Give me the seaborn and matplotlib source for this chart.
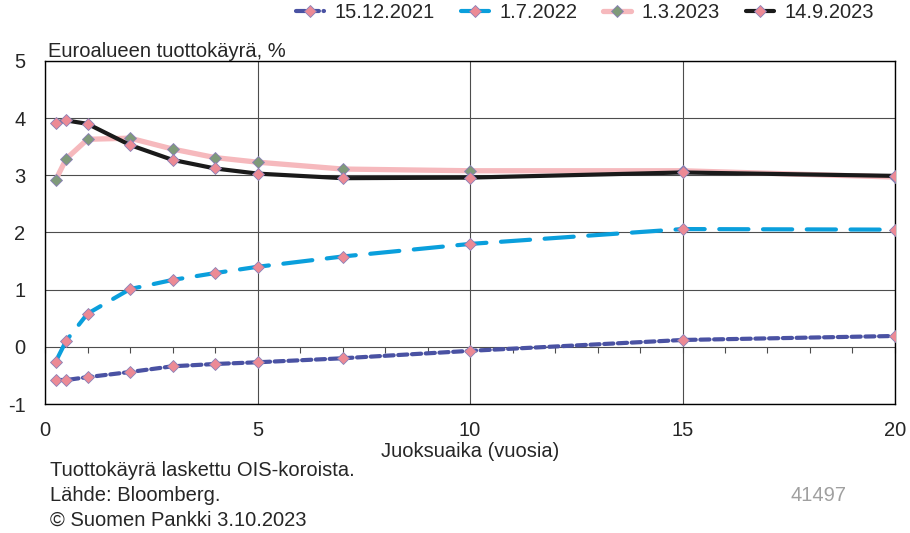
import pandas as pd
import seaborn as sns
import matplotlib.pyplot as plt
from matplotlib.ticker import MultipleLocator

# maturities (years) and yield curves (%)
maturity = [0.25, 0.5, 1, 2, 3, 4, 5, 7, 10, 15, 20]
curve_2021_12_15 = [-0.58, -0.58, -0.53, -0.44, -0.34, -0.30, -0.27, -0.20, -0.07, 0.12, 0.19]
curve_2022_07_01 = [-0.26, 0.11, 0.58, 1.01, 1.17, 1.29, 1.40, 1.58, 1.80, 2.06, 2.05]
curve_2023_03_01 = [2.92, 3.29, 3.63, 3.65, 3.46, 3.31, 3.23, 3.11, 3.08, 3.08, 2.97]
curve_2023_09_14 = [3.92, 3.96, 3.90, 3.53, 3.27, 3.12, 3.03, 2.95, 2.96, 3.05, 2.99]
labels = ['15.12.2021', '1.7.2022', '1.3.2023', '14.9.2023']

sns.set_style('white')
plt.rcParams['font.family'] = ['Liberation Sans', 'DejaVu Sans']
plt.rcParams['axes.unicode_minus'] = False
fs = 14.5

fig = plt.figure(figsize=(9.1, 5.33), dpi=100)
ax = fig.add_axes([0.0495, 0.242, 0.934, 0.6436])

styles = [
    dict(color='#4a52a3', lw=3, dashes=(2.2, 1.1), mfc='#ec8a95', zorder=3),
    dict(color='#0a9fdc', lw=3, dashes=(7, 3.5), mfc='#ec8a95', zorder=4),
    dict(color='#f6b9bd', lw=3.8, dashes=None, mfc='#7f9a7a', zorder=5),
    dict(color='#1a1a1a', lw=3, dashes=None, mfc='#ec8a95', zorder=6),
]
curves = [curve_2021_12_15, curve_2022_07_01, curve_2023_03_01, curve_2023_09_14]

for vals, lab, st in zip(curves, labels, styles):
    df = pd.DataFrame({'maturity': maturity, 'yield': vals})
    sns.lineplot(data=df, x='maturity', y='yield', ax=ax, color=st['color'],
                 linewidth=st['lw'], marker='D', markersize=6.5,
                 markerfacecolor=st['mfc'], markeredgecolor='#8a80b8',
                 markeredgewidth=0.6, label=lab, zorder=st['zorder'])
    line = ax.lines[-1]
    if st['dashes'] is not None:
        line.set_dashes(st['dashes'])
        line.set_dash_capstyle('round')

ax.set_xlim(0, 20)
ax.set_ylim(-1, 5)
ax.xaxis.set_major_locator(MultipleLocator(5))
ax.yaxis.set_major_locator(MultipleLocator(1))
ax.grid(True, color='#4d4d4d', linewidth=0.8)
ax.set_axisbelow(True)
for sp in ax.spines.values():
    sp.set_color('black')
    sp.set_linewidth(1.0)
ax.tick_params(axis='x', length=0, pad=12, labelsize=fs)
ax.tick_params(axis='y', length=0, pad=14, labelsize=fs)
ax.set_xlabel('Juoksuaika (vuosia)', fontsize=fs, labelpad=2)
ax.set_ylabel('')

# minor ticks along the zero line
sec = ax.secondary_xaxis(1 / 6)
sec.spines['bottom'].set_visible(False)
sec.spines['top'].set_visible(False)
sec.xaxis.set_major_locator(MultipleLocator(1))
sec.tick_params(axis='x', direction='out', length=4, width=0.8, color='#4d4d4d',
                labelbottom=False, labeltop=False, bottom=True, top=False)

handles, labs = ax.get_legend_handles_labels()
ax.legend(handles, labs, loc='center right', bbox_to_anchor=(0.975, 1.14), ncol=4,
          frameon=False, handlelength=1.4, handletextpad=0.5, columnspacing=1.3,
          fontsize=fs, borderaxespad=0, borderpad=0)

fig.text(0.053, 0.893, 'Euroalueen tuottokäyrä, %', fontsize=fs, va='baseline')
fig.text(0.055, 0.118, 'Tuottokäyrä laskettu OIS-koroista.', fontsize=fs, va='center')
fig.text(0.055, 0.071, 'Lähde: Bloomberg.', fontsize=fs, va='center')
fig.text(0.055, 0.024, '© Suomen Pankki 3.10.2023', fontsize=fs, va='center')
fig.text(0.869, 0.071, '41497', fontsize=fs, color='#a0a0a0', va='center')

fig.savefig('out.png', dpi=100)
